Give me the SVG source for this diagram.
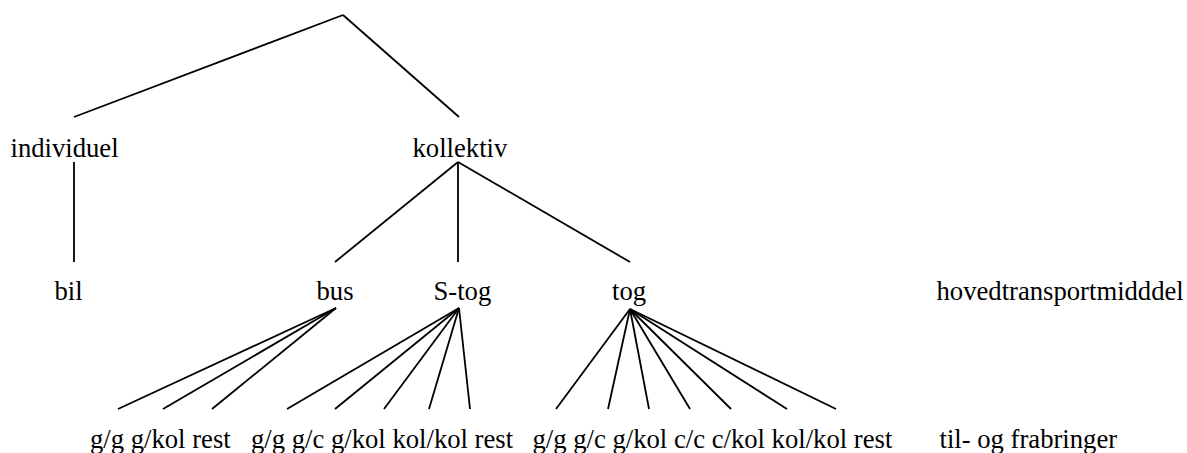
<svg xmlns="http://www.w3.org/2000/svg" width="1187" height="453" viewBox="0 0 1187 453">
<style>
text{font-family:"Liberation Serif","Times New Roman",serif;font-size:26.67px;fill:#000}
.c line{stroke:#000;stroke-width:1.8;stroke-linecap:butt}
</style>
<rect width="1187" height="453" fill="#fff"/>
<g id="connectors" class="c">
<line x1="343" y1="15" x2="74" y2="117"/>
<line x1="343" y1="15" x2="459" y2="117"/>
<line x1="74" y1="162" x2="74" y2="262"/>
<line x1="458" y1="162" x2="335" y2="262"/>
<line x1="458" y1="162" x2="458" y2="262"/>
<line x1="458" y1="162" x2="630" y2="262"/>
<line x1="336" y1="308" x2="118" y2="409"/>
<line x1="336" y1="308" x2="163" y2="409"/>
<line x1="336" y1="308" x2="212" y2="409"/>
<line x1="459" y1="308" x2="287" y2="409"/>
<line x1="459" y1="308" x2="335" y2="409"/>
<line x1="459" y1="308" x2="384" y2="409"/>
<line x1="459" y1="308" x2="429" y2="409"/>
<line x1="459" y1="308" x2="470" y2="409"/>
<line x1="630" y1="309" x2="556" y2="409"/>
<line x1="630" y1="309" x2="608" y2="409"/>
<line x1="630" y1="309" x2="649" y2="409"/>
<line x1="630" y1="309" x2="690" y2="409"/>
<line x1="630" y1="309" x2="731" y2="409"/>
<line x1="630" y1="309" x2="787" y2="409"/>
<line x1="630" y1="309" x2="836" y2="409"/>
</g>
<g id="individuel"><text x="10.5" y="157">individuel</text></g>
<g id="kollektiv"><text x="412.5" y="157">kollektiv</text></g>
<g id="bil"><text x="54.5" y="300">bil</text></g>
<g id="bus"><text x="316.5" y="300">bus</text></g>
<g id="s-tog"><text x="433.5" y="300">S-tog</text></g>
<g id="tog"><text x="612" y="300">tog</text></g>
<g id="hovedtransportmiddel"><text x="936.5" y="300">hovedtransportmidddel</text></g>
<g id="bus-leaves"><text x="90" y="448">g/g g/kol rest</text></g>
<g id="s-tog-leaves"><text x="251" y="448">g/g g/c g/kol kol/kol rest</text></g>
<g id="tog-leaves"><text x="532.5" y="448">g/g g/c g/kol c/c c/kol kol/kol rest</text></g>
<g id="til-og-frabringer"><text x="939.5" y="448">til- og frabringer</text></g>
</svg>
